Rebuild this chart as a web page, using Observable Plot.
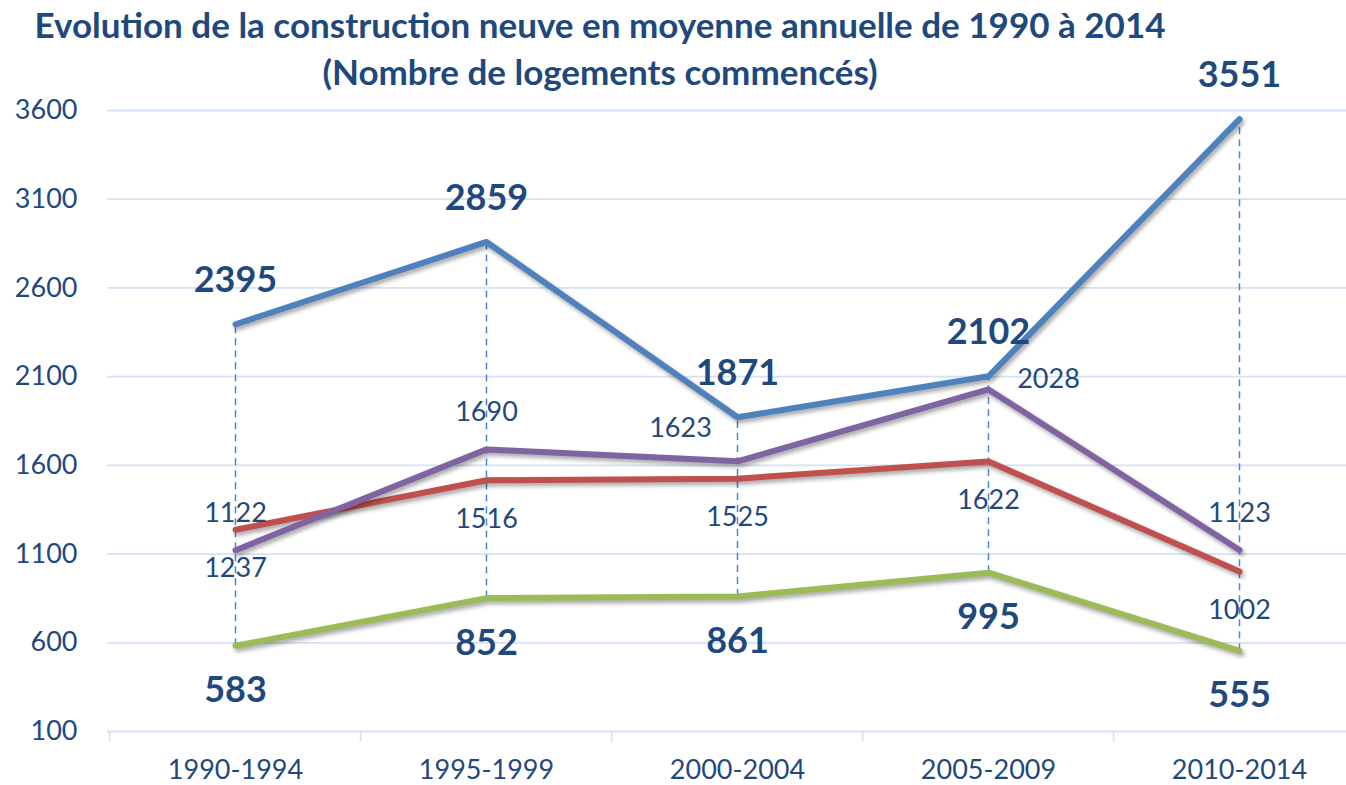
<!DOCTYPE html>
<html>
<head>
<meta charset="utf-8">
<script src="https://cdn.jsdelivr.net/npm/d3@7"></script>
<script src="https://cdn.jsdelivr.net/npm/@observablehq/plot@0.6"></script>
<style>
  html, body { margin: 0; padding: 0; background: #fff; }
  #wrap { position: relative; width: 1346px; height: 785px; overflow: hidden; }
  #title { position: absolute; left: 0; top: 1px; width: 1200px; text-align: center;
    font-family: Lato, "Open Sans", sans-serif; font-weight: 700; font-size: 35px;
    line-height: 47px; color: #1F497D; z-index: 2; }
  #chart svg g[aria-label="line"] path { filter: drop-shadow(2px 3px 2px rgba(0,0,0,0.35)); }
</style>
</head>
<body>
<div id="wrap">
  <div id="title">Evolution de la construction neuve en moyenne annuelle de 1990 à 2014<br>(Nombre de logements commencés)</div>
  <div id="chart"></div>
</div>
<script>
// ---- data ----
const periodes = ["1990-1994", "1995-1999", "2000-2004", "2005-2009", "2010-2014"];
const serieBleue  = [2395, 2859, 1871, 2102, 3551];
const serieRouge  = [1237, 1516, 1525, 1622, 1002];
const serieViolet = [1122, 1690, 1623, 2028, 1123];
const serieVerte  = [583, 852, 861, 995, 555];
const yTicks = [100, 600, 1100, 1600, 2100, 2600, 3100, 3600];

// ---- build tables ----
const toRows = (vals) => periodes.map((p, i) => ({p, v: vals[i]}));
const bleue = toRows(serieBleue), rouge = toRows(serieRouge), violet = toRows(serieViolet), verte = toRows(serieVerte);
const hilo = periodes.map((p, i) => {
  const vs = [serieBleue[i], serieRouge[i], serieViolet[i], serieVerte[i]];
  return {p, lo: Math.min(...vs), hi: Math.max(...vs)};
});

const textColor = "#1F497D";
const font = "Lato, 'Open Sans', sans-serif";
const step = (1366 - 107) / periodes.length;

// label placement offsets for purple series
const violetOffsets = [[0, -37], [0, -37], [-57, -33], [60, -10], [0, -37]];

const lineOpts = {x: "p", y: "v", strokeWidth: 6, strokeLinecap: "round", strokeLinejoin: "round"};

const chart = Plot.plot({
  width: 1346,
  height: 785,
  marginTop: 110,
  marginBottom: 54,
  marginLeft: 107,
  marginRight: 0,
  style: {fontFamily: font, fontSize: "27px", color: textColor, background: "#fff"},
  x: {type: "point", domain: periodes, range: [107, 1366], padding: 0.5, tickSize: 0, tickPadding: 28, label: null},
  y: {domain: [100, 3600], ticks: yTicks, tickSize: 0, tickPadding: 30, label: null, tickFormat: d => String(d)},
  marks: [
    Plot.ruleY(yTicks, {stroke: "#D5E2F3", strokeWidth: 1.8}),
    Plot.ruleX(periodes, {x: d => d, dx: -step / 2, y1: 100, y2: 40, stroke: "#D5E2F3", strokeWidth: 1.8}),
    Plot.ruleX(hilo, {x: "p", y1: "lo", y2: "hi", stroke: "#4A86D8", strokeWidth: 1.5, strokeDasharray: "7,5"}),
    Plot.line(bleue, {...lineOpts, stroke: "#4F81BD"}),
    Plot.line(rouge, {...lineOpts, stroke: "#C0504D"}),
    Plot.line(verte, {...lineOpts, stroke: "#9BBB59"}),
    Plot.line(violet, {...lineOpts, stroke: "#8064A2"}),
    Plot.text(bleue, {x: "p", y: "v", text: d => String(d.v), dy: -44, fill: textColor, fontSize: 36, fontWeight: 700}),
    Plot.text(verte, {x: "p", y: "v", text: d => String(d.v), dy: 45, fill: textColor, fontSize: 36, fontWeight: 700}),
    Plot.text(rouge, {x: "p", y: "v", text: d => String(d.v), dy: 39, fill: textColor, fontSize: 27}),
    ...violet.map((d, i) => Plot.text([d], {x: "p", y: "v", text: e => String(e.v), dx: violetOffsets[i][0], dy: violetOffsets[i][1], fill: textColor, fontSize: 27}))
  ]
});
document.getElementById("chart").appendChild(chart);
</script>
</body>
</html>
